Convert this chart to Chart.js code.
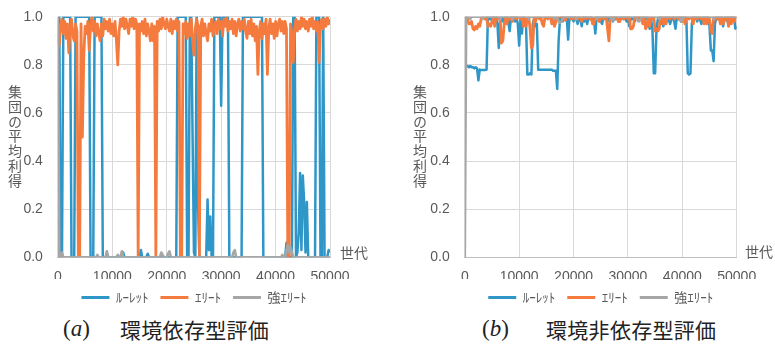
<!DOCTYPE html>
<html><head><meta charset="utf-8">
<script src="https://cdn.jsdelivr.net/npm/chart.js@4/dist/chart.umd.min.js"></script>
<style>
html,body{margin:0;padding:0;background:#fff;}
#wrap{position:relative;width:775px;height:345px;overflow:hidden;background:#fff;}
canvas{position:absolute;top:0;}
.ytitle{position:absolute;writing-mode:vertical-rl;text-orientation:upright;font-family:"Noto Sans CJK JP";font-size:14px;color:#595959;line-height:14px;letter-spacing:0.7px;}
.xtitle{position:absolute;font-family:"Noto Sans CJK JP";font-size:14px;color:#595959;line-height:14px;white-space:nowrap;}
.cap{position:absolute;font-size:21px;color:#222;white-space:nowrap;line-height:21px;}
.capl{font-family:"Liberation Serif",serif;font-size:23px;}
.capt{font-family:"Noto Sans CJK JP";letter-spacing:0.3px;}
</style></head>
<body><div id="wrap">
<canvas id="ca" width="390" height="314" style="left:0"></canvas>
<canvas id="cb" width="385" height="314" style="left:390px"></canvas>
<div class="ytitle" style="left:8px;top:85px">集団の平均利得</div>
<div class="ytitle" style="left:413px;top:85px">集団の平均利得</div>
<div class="xtitle" style="left:340px;top:245px">世代</div>
<div class="xtitle" style="left:745px;top:244px">世代</div>
<div class="cap capl" style="left:63px;top:318px">(<i>a</i>)</div>
<div class="cap capt" style="left:120px;top:319px">環境依存型評価</div>
<div class="cap capl" style="left:482px;top:318px">(<i>b</i>)</div>
<div class="cap capt" style="left:546px;top:319px">環境非依存型評価</div>
</div>
<script>
// ---- data ----
const generations = [
0,250,500,750,1000,1250,1500,1750,2000,2250,2500,2750,3000,3250,3500,3750,4000,4250,4500,4750,
5000,5250,5500,5750,6000,6250,6500,6750,7000,7250,7500,7750,8000,8250,8500,8750,9000,9250,9500,9750,
10000,10250,10500,10750,11000,11250,11500,11750,12000,12250,12500,12750,13000,13250,13500,13750,14000,14250,14500,14750,
15000,15250,15500,15750,16000,16250,16500,16750,17000,17250,17500,17750,18000,18250,18500,18750,19000,19250,19500,19750,
20000,20250,20500,20750,21000,21250,21500,21750,22000,22250,22500,22750,23000,23250,23500,23750,24000,24250,24500,24750,
25000,25250,25500,25750,26000,26250,26500,26750,27000,27250,27500,27750,28000,28250,28500,28750,29000,29250,29500,29750,
30000,30250,30500,30750,31000,31250,31500,31750,32000,32250,32500,32750,33000,33250,33500,33750,34000,34250,34500,34750,
35000,35250,35500,35750,36000,36250,36500,36750,37000,37250,37500,37750,38000,38250,38500,38750,39000,39250,39500,39750,
40000,40250,40500,40750,41000,41250,41500,41750,42000,42250,42500,42750,43000,43250,43500,43750,44000,44250,44500,44750,
45000,45250,45500,45750,46000,46250,46500,46750,47000,47250,47500,47750,48000,48250,48500,48750,49000,49250,49500,49750,
50000];

const seriesNames = ['ﾙｰﾚｯﾄ', 'ｴﾘｰﾄ', '強ｴﾘｰﾄ'];
const xTickValues = [0, 10000, 20000, 30000, 40000, 50000];
const yTickValues = [0, 0.2, 0.4, 0.6, 0.8, 1.0];

// (a) 環境依存型評価
const aRoulette = [
0.88,1,0,0,1,1,1,1,1,1,
0,0,0,1,1,1,1,1,1,1,
1,1,1,1,0,0,0,1,1,1,
1,1,1,0,0,0,0,0,0,0,
0,0,0,0,0,0,0,0,0.02,0,
0,0,0,0,0,0,0,0,0,0,
0,0.03,0,0,0,0,0.015,0,0,0,
0,0,0,0,0,0,0,0,0,0,
0,0,0,0,0,0,0,0,1,1,
1,1,1,1,1,0,0,1,1,0.5,
0.02,0,1,0.22,0,0,0,0,0,0,
0.24,0.03,0.17,0,0,1,1,1,1,1,
0.63,1,1,1,1,1,0,0,0,0,
0,0,0,0,0,0,1,1,1,1,
1,1,1,1,1,1,1,1,1,1,
1,0,0,0,0,0,0,0,0,0,
0,0,0,0,0,0,0,0,0.06,0,
0,0,0,1,1,0,0.02,0.1,0.35,0.03,
0.34,0.23,0.02,0.23,0,0,0,0,0,0,
1,1,1,0,0,1,0,0,0,0.03,
0.02];
const aElite = [
0.97,0.88,0.96,0.99,0.93,0.98,0.91,0.97,0.85,0.95,
0.99,0.92,0.9,0.97,0.94,0,0,0.97,0.5,0.83,
0.96,0.93,0.98,0.86,0.96,1,0.94,0.98,0.92,0.97,
0.93,0.9,0.97,0.92,0.99,0.95,0.98,0.94,0.99,0.93,
0.97,0.92,0.98,0.9,0.8,0.94,0.99,0.96,1,0.95,
0.99,0.96,0.93,0.99,0.96,1,0.95,0.99,0.97,0,
0.97,0.94,0.98,0.93,0.99,0.92,0.97,0.94,0.9,0.97,
0.9,0.96,0,0.98,0.94,0.99,0.95,1,0.97,0.95,
0.99,0.96,0.94,0.99,0.93,0.98,0.95,0.99,0.94,0.98,
0,0,0.97,0.93,0.98,0.91,0.97,0.92,0.99,0.9,
0.84,0.95,0.99,0.96,0,0.96,0.99,0.92,0.97,0.93,
0.9,0.97,0.94,0.99,0.92,0.96,0.98,0.93,0.99,0.95,
0.98,0.92,0.99,0.96,1,0.94,0.98,0.95,0.99,0.93,
0.98,0.92,0.97,0.99,0.94,0.98,0.95,0.99,0.94,0.91,
0.98,0.93,0.99,0.92,0.97,0.9,0.96,0.76,0.94,0.98,
0.91,0.97,0.93,0.99,0.76,0.95,0.99,0.93,0.97,0.91,
0.98,0.92,0.97,0.99,0.94,0.98,0.93,0.98,0.95,0,
0,0.97,0.93,0.81,0.95,0.99,0.94,0.98,0.95,1,
0.96,0.99,0.95,0.98,0.94,0.99,0.96,1,0.95,0.98,
0.94,0.98,0.81,0.96,0.99,0.95,0.99,0.96,1,0.97,
0.99];
const aStrong = [
1,0,0,0.02,0,0,0,0,0,0,
0,0,0,0,0,0,0,0,0,0,
0,0,0,0,0,0,0,0,0,0.01,
0,0,0,0,0,0,0.025,0,0,0,
0,0,0,0,0.01,0,0,0.025,0,0,
0,0,0,0,0,0,0,0,0,0,
0,0,0,0,0,0,0,0,0,0,
0,0,0,0,0,0,0.02,0.01,0,0,
0,0.015,0.025,0,0,0,0,0,0,0,
0,0,0,0,0,0,0,0,0,0,
0,0,0,0,0,0,0,0,0,0,
0,0,0,0,0,0,0,0,0,0,
0,0,0,0,0,0,0,0,0,0.02,
0.03,0,0,0,0,0,0,0,0,0,
0,0,0,0,0,0,0,0,0,0,
0,0,0,0,0,0,0,0,0,0,
0,0,0,0,0,0.01,0,0,0.03,0.05,
0.02,0.04,0.02,0,0,0,0,0,0,0,
0,0,0,0,0,0,0,0,0,0,
0,0,0,0,0,0,0,0,0,0,
0];

// (b) 環境非依存型評価
const bRoulette = [
0.795,0.795,0.795,0.79,0.795,0.79,0.79,0.785,0.79,0.785,
0.735,0.78,0.778,0.778,0.778,0.778,0.78,1,0.99,1,
0.98,1,0.99,1,0.97,0.87,0.99,1,0.98,1,
0.99,1,0.98,0.94,1,0.99,1,0.98,1,0.97,
0.88,0.99,0.93,1,0.99,0.98,0.76,0.76,0.765,0.76,
0.97,0.99,0.96,0.97,0.78,0.78,0.78,0.78,0.78,0.78,
0.78,0.78,0.78,0.78,0.78,0.775,0.775,0.775,0.70,0.9,
0.99,1,0.98,1,0.99,1,0.905,1,0.99,1,
0.98,1,0.99,0.97,1,0.99,0.96,1,0.98,1,
0.97,1,0.99,1,0.98,0.99,0.93,1,0.99,1,
0.98,0.97,1,0.99,1,0.98,1,0.99,1,0.98,
1,0.99,1,0.98,1,0.99,1,0.99,1,0.98,
1,0.96,1,0.99,1,0.98,1,0.99,1,0.99,
1,0.98,1,0.99,1,0.98,0.95,0.99,0.95,0.765,
0.765,0.95,0.99,1,0.97,1,0.96,0.99,1,0.98,
1,0.97,0.99,1,0.98,0.95,1,0.99,1,0.98,
1,0.99,1,0.99,0.765,0.76,0.765,0.97,1,0.99,
1,0.98,1,0.99,0.97,1,0.99,1,0.98,1,
0.96,0.86,0.86,0.815,0.97,1,0.99,1,0.98,1,
0.96,0.99,1,0.98,1,0.97,1,0.99,1,0.95,
0.96];
const bElite = [
1,1,0.99,0.97,0.97,0.98,0.95,0.945,0.96,0.95,
0.97,0.96,0.99,1,1,0.99,1,0.96,0.97,0.96,
0.98,1,0.96,1,0.99,1,0.99,0.89,0.9,0.97,
1,0.97,1,0.99,1,0.98,1,1,0.99,1,
1,0.99,1,0.96,1,0.96,0.99,1,0.95,0.87,
0.88,1,0.98,1,1,0.99,1,0.97,0.96,1,
1,0.99,1,1,0.97,1,0.96,0.98,1,1,
1,1,0.99,1,0.985,1,1,1,0.99,1,
0.99,1,1,0.99,1,1,0.98,1,1,0.99,
1,1,0.99,1,0.97,0.97,1,1,0.99,0.98,
1,1,0.99,1,1,0.95,0.9,1,0.99,1,
1,0.99,1,0.98,0.98,1,1,0.99,1,1,
0.99,1,0.95,0.95,0.96,1,1,0.99,1,1,
0.99,0.97,1,0.95,0.96,1,0.96,1,0.99,1,
0.94,0.95,0.94,0.95,1,1,0.97,1,0.97,1,
1,0.99,1,1,0.99,1,1,0.99,1,1,
0.98,1,0.97,1,1,0.99,1,1,0.97,1,
1,0.99,1,1,0.99,1,0.97,1,0.97,1,
0.99,0.94,0.93,1,1,0.99,1,1,0.97,1,
0.97,1,0.99,1,0.96,1,0.97,1,0.98,1,
1];
const bStrong = [
0,1,1,1,0.99,1,1,1,1,1,
1,1,1,0.99,1,1,1,1,1,1,
1,1,1,1,1,1,0.99,1,1,1,
1,1,1,1,1,0.99,1,1,1,1,
1,1,1,1,1,1,1,0.99,1,1,
1,1,1,1,1,1,1,1,1,1,
1,1,1,1,1,1,0.99,1,1,0.98,
0.975,0.98,0.99,1,1,1,1,1,1,1,
1,1,0.99,1,1,1,1,1,1,1,
1,1,1,1,1,1,1,0.99,1,1,
1,1,1,1,1,1,1,1,0.99,0.985,
1,1,1,1,1,1,1,1,1,1,
1,1,1,1,1,1,1,0.985,0.98,0.985,
1,1,1,1,1,1,1,1,1,1,
1,1,1,0.99,1,1,1,1,1,1,
1,1,1,1,1,1,1,1,1,0.98,
0.985,1,1,1,1,1,1,1,1,1,
1,1,1,1,1,1,1,1,1,1,
1,1,1,0.99,1,1,1,1,1,1,
1,1,1,1,1,1,1,1,1,1,
1];

// ---- styling ----
const COLORS = ['#2f96c8', '#f47b3d', '#a6a6a6'];
const WIDTHS = [2.5, 2.8, 2.6];
const TICK_FONT = {family: '"Liberation Sans Narrow", "Liberation Sans", sans-serif', size: 14};
const TEXT_COLOR = '#595959';

function pts(vals) { return generations.map((g, i) => ({x: g, y: vals[i]})); }

function makeChart(id, series, yWidth, padRight) {
  const datasets = series.map((vals, k) => ({
    label: seriesNames[k],
    data: pts(vals),
    borderColor: COLORS[k],
    backgroundColor: COLORS[k],
    borderWidth: WIDTHS[k],
    borderJoinStyle: 'round',
    pointRadius: 0,
    tension: 0,
    order: 3 - k
  }));
  return new Chart(document.getElementById(id), {
    type: 'line',
    data: {datasets},
    options: {
      responsive: false, animation: false, devicePixelRatio: 1,
      layout: {padding: {left: 0, right: padRight, top: 16.7, bottom: 0}},
      plugins: {
        tooltip: {enabled: false},
        legend: {
          position: 'bottom', fullSize: false,
          labels: {
            usePointStyle: true, pointStyle: 'line', pointStyleWidth: 28,
            color: TEXT_COLOR, padding: 12,
            font: {family: '"Noto Sans CJK JP"', size: 13},
            generateLabels: (chart) => Chart.defaults.plugins.legend.labels.generateLabels(chart)
              .sort((a, b) => a.datasetIndex - b.datasetIndex)
              .map(l => Object.assign(l, {lineWidth: 3, strokeStyle: COLORS[l.datasetIndex], fillStyle: COLORS[l.datasetIndex]}))
          }
        }
      },
      scales: {
        x: {
          type: 'linear', min: 0, max: 50000,
          afterBuildTicks: s => { s.ticks = xTickValues.map(v => ({value: v})); },
          afterFit: s => { s.height = 21.7; },
          ticks: {color: TEXT_COLOR, font: TICK_FONT, padding: 11, maxRotation: 0, callback: v => String(v)},
          grid: {color: '#d9d9d9', lineWidth: 1, drawTicks: false},
          border: {display: true, color: '#bfbfbf', width: 1}
        },
        y: {
          min: 0, max: 1,
          afterBuildTicks: s => { s.ticks = yTickValues.map(v => ({value: v})); },
          afterFit: s => { s.width = yWidth; s.paddingTop = 0; s.paddingBottom = 0; },
          ticks: {color: TEXT_COLOR, font: TICK_FONT, padding: 15, callback: v => Number(v).toFixed(1)},
          grid: {color: '#d9d9d9', lineWidth: 1, drawTicks: false},
          border: {display: false}
        }
      }
    }
  });
}

makeChart('ca', [aRoulette, aElite, aStrong], 57.9, 60);
makeChart('cb', [bRoulette, bElite, bStrong], 74.8, 38.3);
</script>
</body></html>
